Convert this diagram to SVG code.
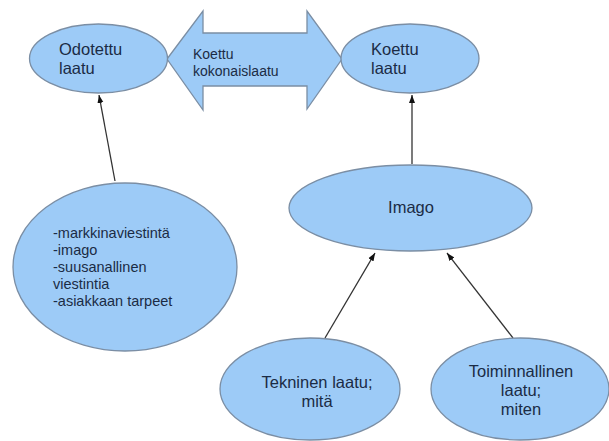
<svg xmlns="http://www.w3.org/2000/svg" width="609" height="441" viewBox="0 0 609 441">
<style>
.n{fill:#9dcbf7;stroke:#7b8ea4;stroke-width:1.3}
.t{font-family:"Liberation Sans",Arial,sans-serif;fill:#1b2b45}
.b{font-size:16.5px}
.s{font-size:14px}
.l{font-size:14.5px}
.c{stroke:#333;stroke-width:1.3;fill:none;marker-end:url(#ah)}
</style>
<defs>
<marker id="ah" markerUnits="userSpaceOnUse" markerWidth="9" markerHeight="7" refX="8" refY="3.5" orient="auto">
<path d="M0,0.5 L8,3.5 L0,6.5 z" fill="#111"/>
</marker>
</defs>
<rect width="609" height="441" fill="#fff"/>
<g id="connectors">
<line class="c" x1="115" y1="181" x2="99" y2="95"/>
<line class="c" x1="412" y1="164" x2="412" y2="95"/>
<line class="c" x1="325" y1="338" x2="375" y2="253"/>
<line class="c" x1="513" y1="338" x2="447" y2="253"/>
</g>
<g id="koettu-kokonaislaatu">
<polygon class="n" points="167,59 203,11 203,33 307,33 307,11 342,59 307,109 307,86 203,86 203,110"/>
<text class="t s" x="193"><tspan x="193" y="59">Koettu</tspan><tspan x="193" y="76">kokonaislaatu</tspan></text>
</g>
<g id="odotettu-laatu">
<ellipse class="n" cx="98.5" cy="58.5" rx="69" ry="34.5"/>
<text class="t b"><tspan x="59" y="55">Odotettu</tspan><tspan x="59" y="74">laatu</tspan></text>
</g>
<g id="koettu-laatu">
<ellipse class="n" cx="410" cy="58.5" rx="69" ry="34.5"/>
<text class="t b"><tspan x="371" y="55">Koettu</tspan><tspan x="371" y="74">laatu</tspan></text>
</g>
<g id="tekijat">
<ellipse class="n" cx="125" cy="267" rx="112" ry="84"/>
<text class="t l"><tspan x="53" y="238">-markkinaviestintä</tspan><tspan x="53" y="255">-imago</tspan><tspan x="53" y="272">-suusanallinen</tspan><tspan x="53" y="289">viestintia</tspan><tspan x="53" y="306">-asiakkaan tarpeet</tspan></text>
</g>
<g id="imago">
<ellipse class="n" cx="410.5" cy="208" rx="121.5" ry="43"/>
<text class="t b" x="411" y="213" text-anchor="middle">Imago</text>
</g>
<g id="tekninen-laatu">
<ellipse class="n" cx="310" cy="389" rx="90" ry="51"/>
<text class="t b" text-anchor="middle"><tspan x="317" y="388">Tekninen laatu;</tspan><tspan x="317" y="407">mitä</tspan></text>
</g>
<g id="toiminnallinen-laatu">
<ellipse class="n" cx="520" cy="389" rx="89" ry="51"/>
<text class="t b" text-anchor="middle"><tspan x="521" y="377">Toiminnallinen</tspan><tspan x="521" y="396">laatu;</tspan><tspan x="521" y="415">miten</tspan></text>
</g>
</svg>
